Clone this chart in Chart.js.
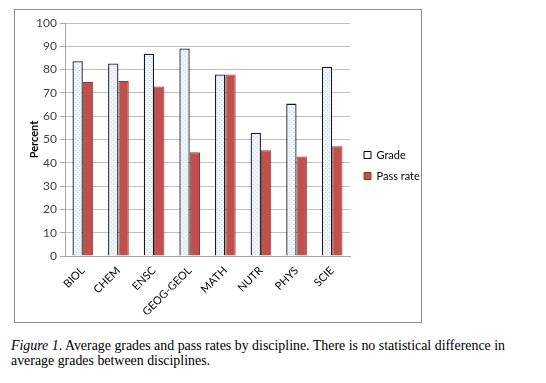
<!DOCTYPE html>
<html>
<head>
<meta charset="utf-8">
<script src="https://cdn.jsdelivr.net/npm/chart.js@4.4.0/dist/chart.umd.min.js"></script>
<style>
  html, body { margin: 0; padding: 0; background: #fff; }
  body { width: 546px; height: 383px; position: relative; overflow: hidden; }
  #box { position: absolute; left: 14px; top: 9px; width: 406px; height: 312px; border: 1px solid #8c8c8c; }
  #box canvas { display: block; }
  #caption { position: absolute; left: 11px; top: 338px; width: 535px; white-space: nowrap; font-family: "Liberation Serif", "DejaVu Serif", serif; font-size: 13.9px; line-height: 15px; color: #000; }
</style>
</head>
<body>
<div id="box"><canvas id="c" width="406" height="312"></canvas></div>
<div id="caption"><i>Figure 1</i>. Average grades and pass rates by discipline. There is no statistical difference in<br>average grades between disciplines.</div>
<script>
const categories = ["BIOL", "CHEM", "ENSC", "GEOG-GEOL", "MATH", "NUTR", "PHYS", "SCIE"];
const gradeValues = [83.6, 82.6, 86.8, 89.1, 77.9, 52.9, 65.4, 81.2];
const passRateValues = [74.7, 75.1, 72.8, 44.5, 77.9, 45.4, 42.7, 47.1];
const yTicks = [0, 10, 20, 30, 40, 50, 60, 70, 80, 90, 100];

const FONT = 'Lato, "Liberation Sans", sans-serif';

function makePattern() {
  const p = document.createElement('canvas');
  p.width = 4; p.height = 4;
  const g = p.getContext('2d');
  g.fillStyle = '#eef3fa';
  g.fillRect(0, 0, 4, 4);
  g.fillStyle = '#d3deec';
  g.fillRect(0, 0, 1, 1);
  g.fillRect(2, 2, 1, 1);
  return document.getElementById('c').getContext('2d').createPattern(p, 'repeat');
}
const gradeFill = makePattern();

const legendFix = {
  id: 'legendFix',
  afterInit(chart) {
    const lg = chart.legend;
    const f = lg.fit.bind(lg);
    lg.fit = function () { f(); this.width = 71; };
  },
  afterLayout(chart) {
    const lg = chart.legend;
    lg.left += 4;
    lg.right += 4;
    lg.top -= 7;
    lg.bottom -= 7;
    if (lg.adjustHitBoxes) lg.adjustHitBoxes();
  }
};

new Chart(document.getElementById('c'), {
  type: 'bar',
  data: {
    labels: categories,
    datasets: [
      { label: 'Grade', data: gradeValues, backgroundColor: gradeFill, borderColor: '#1a1a1a', borderWidth: 1.3, borderSkipped: 'bottom' },
      { label: 'Pass rate', data: passRateValues, backgroundColor: '#c0504d', borderColor: '#8c3836', borderWidth: 1, borderSkipped: 'bottom' }
    ]
  },
  options: {
    responsive: false,
    animation: false,
    devicePixelRatio: 1,
    datasets: { bar: { categoryPercentage: 0.58, barPercentage: 1.0 } },
    layout: { padding: { top: 13, right: 0, left: 0, bottom: 0 } },
    plugins: {
      legend: {
        position: 'right',
        align: 'center',
        labels: {
          boxWidth: 7, boxHeight: 7, padding: 10,
          color: '#000',
          font: { family: FONT, size: 11 },
          generateLabels(chart) {
            return chart.data.datasets.map((ds, i) => ({
              text: ds.label,
              fillStyle: i === 0 ? '#ffffff' : '#c0504d',
              strokeStyle: i === 0 ? '#000' : '#8c3836',
              lineWidth: 1,
              datasetIndex: i,
              fontColor: '#000'
            }));
          }
        }
      },
      tooltip: { enabled: false }
    },
    scales: {
      x: {
        grid: { display: false, drawTicks: false },
        border: { color: '#a6a6a6' },
        ticks: { maxRotation: 45, minRotation: 45, color: '#000', font: { family: FONT, size: 11 }, padding: 8 },
        afterFit(s) { s.height = 66; }
      },
      y: {
        min: 0, max: 100,
        afterBuildTicks(s) { s.ticks = yTicks.map(v => ({ value: v })); },
        grid: { color: '#c0c0c0', lineWidth: 1, tickLength: 5, tickColor: '#a6a6a6' },
        border: { color: '#a6a6a6' },
        ticks: { color: '#404040', font: { family: FONT, size: 12 }, padding: 3 },
        title: { display: true, text: 'Percent', color: '#000', font: { family: FONT, size: 11, weight: 'bold' }, padding: { top: 13, bottom: 0 } },
        afterFit(s) { s.width = 50; }
      }
    }
  },
  plugins: [legendFix]
});
</script>
</body>
</html>
